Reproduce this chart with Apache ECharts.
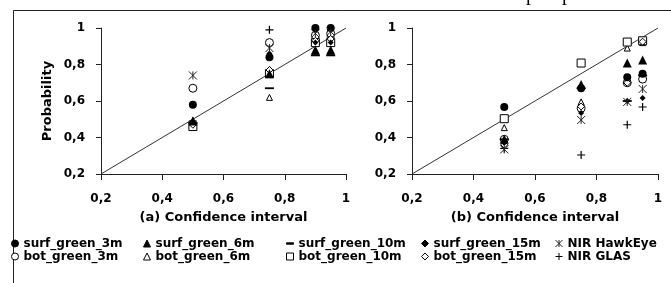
<!DOCTYPE html>
<html>
<head>
<meta charset="utf-8">
<script src="https://cdn.jsdelivr.net/npm/echarts@6/dist/echarts.min.js"></script>
<style>
  html, body { margin: 0; padding: 0; background: #fff; }
  #chart { width: 671px; height: 283px; }
</style>
</head>
<body>
<div id="chart"></div>
<script>
  // confidence levels on the x axis
  const ciLevels = [0.5, 0.75, 0.9, 0.95]
  const refLine = [0.2, 1]

  const seriesNames = [
    'surf_green_3m', 'surf_green_6m', 'surf_green_10m', 'surf_green_15m', 'NIR HawkEye',
    'bot_green_3m', 'bot_green_6m', 'bot_green_10m', 'bot_green_15m', 'NIR GLAS'
  ]

  // (a) panel
  const surf3mA = [0.58, 0.84, 1.0, 1.0]
  const surf6mA = [0.49, 0.75, 0.88, 0.88]
  const surf10mA = [0.48, 0.67, 0.85, 0.85]
  const surf15mA = [0.49, 0.86, 0.92, 0.92]
  const hawkEyeA = [0.74, 0.89, 0.97, 0.98]
  const bot3mA = [0.67, 0.92, 0.96, 0.97]
  const bot6mA = [0.49, 0.62, 0.87, 0.87]
  const bot10mA = [0.46, 0.75, 0.92, 0.92]
  const bot15mA = [0.47, 0.77, 0.93, 0.94]
  const glasA = [0.49, 0.99, 0.93, 0.95]

  // (b) panel
  const surf3mB = [0.567, 0.67, 0.73, 0.75]
  const surf6mB = [0.39, 0.69, 0.808, 0.825]
  const surf10mB = [0.39, 0.67, 0.60, 0.74]
  const surf15mB = [0.37, 0.534, 0.60, 0.616]
  const hawkEyeB = [0.335, 0.496, 0.595, 0.666]
  const bot3mB = [0.39, 0.56, 0.70, 0.72]
  const bot6mB = [0.454, 0.595, 0.89, 0.92]
  const bot10mB = [0.503, 0.808, 0.923, 0.93]
  const bot15mB = [0.36, 0.57, 0.70, 0.925]
  const glasB = [0.34, 0.304, 0.47, 0.567]

  const panelA = [surf3mA, surf6mA, surf10mA, surf15mA, hawkEyeA, bot3mA, bot6mA, bot10mA, bot15mA, glasA]
  const panelB = [surf3mB, surf6mB, surf10mB, surf15mB, hawkEyeB, bot3mB, bot6mB, bot10mB, bot15mB, glasB]

  const markers = {
    surf_green_3m: { symbol: 'circle', size: 8, fill: '#000', line: '#000', lw: 0, z: 4 },
    surf_green_6m: { symbol: 'triangle', size: 9, fill: '#000', line: '#000', lw: 0, z: 4 },
    surf_green_10m: { symbol: 'path://M0,0M0,10M0,4H10V6H0Z', size: 9, fill: '#000', line: '#000', lw: 0, z: 4 },
    surf_green_15m: { symbol: 'diamond', size: 6, fill: '#000', line: '#000', lw: 0, z: 4 },
    'NIR HawkEye': { symbol: 'path://M0,0L10,10M10,0L0,10M5,0L5,10', size: 8, fill: 'none', line: '#222', lw: 1, z: 5 },
    bot_green_3m: { symbol: 'circle', size: 8, fill: '#fff', line: '#000', lw: 1, z: 3 },
    bot_green_6m: { symbol: 'triangle', size: 6, fill: '#fff', line: '#000', lw: 1, z: 3 },
    bot_green_10m: { symbol: 'rect', size: 8, fill: '#fff', line: '#000', lw: 1, z: 3 },
    bot_green_15m: { symbol: 'diamond', size: 7, fill: '#fff', line: '#000', lw: 1, z: 3 },
    'NIR GLAS': { symbol: 'path://M5,0V10M0,5H10', size: 8, fill: 'none', line: '#000', lw: 1.2, z: 2 }
  }

  const font = 'DejaVu Sans'
  const fmt = (v) => String(v).replace('.', ',')

  function makeAxes(idx) {
    const x = {
      gridIndex: idx,
      type: 'value',
      min: 0.2,
      max: 1,
      interval: 0.2,
      name: idx === 0 ? '(a) Confidence interval' : '(b) Confidence interval',
      nameLocation: 'middle',
      nameGap: 37,
      nameTextStyle: { fontFamily: font, fontWeight: 'bold', fontSize: 13, color: '#000' },
      axisLine: { lineStyle: { color: '#222', width: 1 } },
      axisTick: { show: true, length: 6, lineStyle: { color: '#222' } },
      axisLabel: { margin: 19, fontFamily: font, fontWeight: 'bold', fontSize: 12, color: '#000', formatter: fmt },
      splitLine: { show: false }
    }
    const y = {
      gridIndex: idx,
      type: 'value',
      min: 0.2,
      max: 1,
      interval: 0.2,
      name: idx === 0 ? 'Probability' : '',
      nameLocation: 'middle',
      nameGap: 47,
      nameTextStyle: { fontFamily: font, fontWeight: 'bold', fontSize: 13, color: '#000' },
      axisLine: { show: true, lineStyle: { color: '#222', width: 1 } },
      axisTick: { show: true, length: 5, lineStyle: { color: '#222' } },
      axisLabel: { margin: 16, fontFamily: font, fontWeight: 'bold', fontSize: 12, color: '#000', formatter: fmt },
      splitLine: { show: false }
    }
    return [x, y]
  }

  const axesA = makeAxes(0)
  const axesB = makeAxes(1)

  const series = []
  ;[panelA, panelB].forEach((panel, p) => {
    series.push({
      type: 'line',
      xAxisIndex: p,
      yAxisIndex: p,
      data: refLine.map((v) => [v, v]),
      showSymbol: false,
      silent: true,
      lineStyle: { color: '#333', width: 1 },
      z: 1
    })
    panel.forEach((vals, i) => {
      const name = seriesNames[i]
      const m = markers[name]
      series.push({
        name,
        type: 'scatter',
        xAxisIndex: p,
        yAxisIndex: p,
        symbol: m.symbol,
        symbolSize: m.size,
        data: ciLevels.map((c, k) => [c, vals[k]]),
        itemStyle: { color: m.fill, borderColor: m.line, borderWidth: m.lw, opacity: 1 },
        z: m.z
      })
    })
  })

  // legend in 5 columns of 2 rows
  const legendCols = [11, 143, 286, 421, 553]
  const legend = legendCols.map((left, c) => ({
    orient: 'vertical',
    left,
    top: 237,
    itemWidth: 7,
    itemHeight: 7,
    itemGap: 0,
    padding: 0,
    selectedMode: false,
    itemStyle: { borderWidth: 1 },
    data: [seriesNames[c], seriesNames[c + 5]],
    textStyle: { fontFamily: font, fontWeight: 'bold', fontSize: 12, color: '#000', lineHeight: 13 }
  }))

  const chart = echarts.init(document.getElementById('chart'), null, { renderer: 'canvas' })
  chart.setOption({
    animation: false,
    backgroundColor: '#fff',
    grid: [
      { left: 101, top: 28, width: 245, height: 146 },
      { left: 412, top: 28, width: 246, height: 146 }
    ],
    xAxis: [axesA[0], axesB[0]],
    yAxis: [axesA[1], axesB[1]],
    legend,
    series,
    graphic: [
      {
        type: 'rect',
        shape: { x: 13.5, y: 10.5, width: 700, height: 300 },
        style: { fill: 'none', stroke: '#222', lineWidth: 1 },
        silent: true
      },
      {
        type: 'text',
        x: 526,
        y: 5,
        style: { text: 'p', font: '20px "Liberation Serif"', fill: '#000', verticalAlign: 'bottom' },
        silent: true
      },
      {
        type: 'text',
        x: 562,
        y: 5,
        style: { text: 'p', font: '20px "Liberation Serif"', fill: '#000', verticalAlign: 'bottom' },
        silent: true
      }
    ]
  })
</script>
</body>
</html>
